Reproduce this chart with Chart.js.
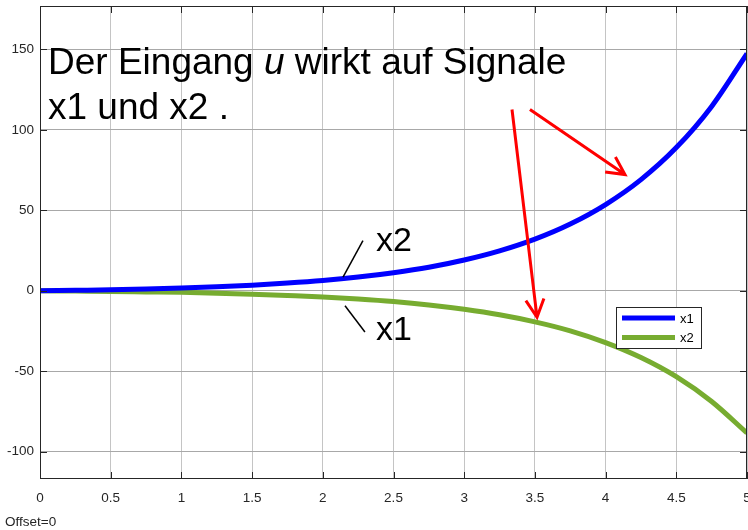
<!DOCTYPE html>
<html>
<head>
<meta charset="utf-8">
<title>Signale x1 und x2</title>
<script src="https://cdn.jsdelivr.net/npm/chart.js@4.4.1/dist/chart.umd.min.js"></script>
<style>
  html, body { margin: 0; padding: 0; background: #fff; }
  #wrap { width: 748px; height: 530px; }
</style>
</head>
<body>
<div id="wrap"><canvas id="signalChart" width="748" height="530"></canvas></div>
<script>
// Zeitachse und Verläufe der beiden Signale
const tValues = [0, 0.25, 0.5, 0.75, 1, 1.25, 1.5, 1.75, 2, 2.25, 2.5, 2.75, 3, 3.25, 3.5, 3.75, 4, 4.25, 4.5, 4.75, 5];
const x1Values = [0, 0.3, 0.6, 1.1, 1.7, 2.5, 3.5, 4.8, 6.4, 8.5, 11.2, 14.6, 19.1, 24.8, 32.1, 41.5, 53.6, 69.1, 89.0, 114.6, 147.4];
const x2Values = [0, -0.2, -0.4, -0.7, -1.0, -1.5, -2.1, -2.9, -3.8, -5.1, -6.7, -8.8, -11.5, -14.9, -19.3, -24.9, -32.2, -41.5, -53.4, -68.8, -88.4];

const xTicks = [0, 0.5, 1, 1.5, 2, 2.5, 3, 3.5, 4, 4.5, 5];
const yTicks = [-100, -50, 0, 50, 100, 150];
const seriesNames = ["x1", "x2"];

const FONT = "'Liberation Sans', Arial, Helvetica, sans-serif";
const BLUE = "#0000ff";
const GREEN = "#77ac30";

function toPoints(xs, ys) {
    return xs.map((x, i) => ({ x: x, y: ys[i] }));
}

// Pfeile und Hinweislinien in Datenkoordinaten
const arrows = [
    { from: [3.465, 112.7], to: [4.137, 72.2] },
    { from: [3.338, 112.7], to: [3.515, -16.5] }
];
const leaders = [
    { from: [2.143, 8.5], to: [2.284, 31.1] },
    { from: [2.157, -9.3], to: [2.298, -25.6] }
];

// keine zusätzliche Innenabstände für überstehende Tick-Labels
function fixScale(size, prop) {
    return s => {
        s[prop] = size;
        s.paddingLeft = 0;
        s.paddingRight = 0;
        s.paddingTop = 0;
        s.paddingBottom = 0;
    };
}

const overlayPlugin = {
    id: "overlay",
    afterDatasetsDraw(chart) {
        const ctx = chart.ctx;
        const area = chart.chartArea;
        const xs = chart.scales.x;
        const ys = chart.scales.y;
        const px = p => [xs.getPixelForValue(p[0]), ys.getPixelForValue(p[1])];

        ctx.save();

        // Achsenrahmen mit innenliegenden Ticks
        ctx.strokeStyle = "#262626";
        ctx.lineWidth = 1;
        ctx.strokeRect(area.left + 0.5, area.top + 0.5, area.right - area.left - 1, area.bottom - area.top - 1);
        ctx.beginPath();
        xTicks.forEach(v => {
            const x = Math.round(xs.getPixelForValue(v)) + 0.5;
            ctx.moveTo(x, area.bottom); ctx.lineTo(x, area.bottom - 7);
            ctx.moveTo(x, area.top); ctx.lineTo(x, area.top + 7);
        });
        yTicks.forEach(v => {
            const y = Math.round(ys.getPixelForValue(v)) + 0.5;
            ctx.moveTo(area.left, y); ctx.lineTo(area.left + 7, y);
            ctx.moveTo(area.right, y); ctx.lineTo(area.right - 7, y);
        });
        ctx.stroke();

        // Haupttext
        ctx.fillStyle = "#000";
        ctx.textBaseline = "alphabetic";
        ctx.textAlign = "left";
        let tx = 48;
        const parts = [["Der Eingang ", ""], ["u", "italic "], [" wirkt auf Signale", ""]];
        parts.forEach(([s, style]) => {
            ctx.font = style + "37px " + FONT;
            ctx.fillText(s, tx, 74);
            tx += ctx.measureText(s).width;
        });
        ctx.font = "37px " + FONT;
        ctx.fillText("x1 und x2 .", 48, 119);

        // Kurvenbeschriftungen mit Hinweislinien
        ctx.font = "34px " + FONT;
        ctx.fillText("x2", 376, 251);
        ctx.fillText("x1", 376, 340);
        ctx.strokeStyle = "#000";
        ctx.lineWidth = 1.5;
        leaders.forEach(l => {
            const a = px(l.from), b = px(l.to);
            ctx.beginPath();
            ctx.moveTo(a[0], a[1]);
            ctx.lineTo(b[0], b[1]);
            ctx.stroke();
        });

        // rote Pfeile
        ctx.strokeStyle = "#ff0000";
        ctx.lineWidth = 3;
        ctx.lineCap = "butt";
        arrows.forEach(ar => {
            const a = px(ar.from), b = px(ar.to);
            const ang = Math.atan2(b[1] - a[1], b[0] - a[0]);
            const head = 20, spread = 27 * Math.PI / 180;
            ctx.beginPath();
            ctx.moveTo(a[0], a[1]);
            ctx.lineTo(b[0], b[1]);
            ctx.moveTo(b[0] - head * Math.cos(ang - spread), b[1] - head * Math.sin(ang - spread));
            ctx.lineTo(b[0], b[1]);
            ctx.lineTo(b[0] - head * Math.cos(ang + spread), b[1] - head * Math.sin(ang + spread));
            ctx.stroke();
        });

        // Legende
        const lx = 616, ly = 307, lw = 85, lh = 41;
        ctx.fillStyle = "#fff";
        ctx.fillRect(lx, ly, lw, lh);
        ctx.strokeStyle = "#262626";
        ctx.lineWidth = 1;
        ctx.strokeRect(lx + 0.5, ly + 0.5, lw, lh);
        const colors = [BLUE, GREEN];
        ctx.font = "13px " + FONT;
        ctx.textBaseline = "middle";
        seriesNames.forEach((name, i) => {
            const y = ly + 11 + i * 19.5;
            ctx.strokeStyle = colors[i];
            ctx.lineWidth = 5;
            ctx.beginPath();
            ctx.moveTo(lx + 6, y);
            ctx.lineTo(lx + 59, y);
            ctx.stroke();
            ctx.fillStyle = "#000";
            ctx.fillText(name, lx + 64, y + 1);
        });

        // Offset-Hinweis
        ctx.fillStyle = "#262626";
        ctx.font = "13.5px " + FONT;
        ctx.fillText("Offset=0", 5, 522);

        ctx.restore();
    }
};

new Chart(document.getElementById("signalChart"), {
    type: "line",
    data: {
        datasets: [
            {
                label: seriesNames[0],
                data: toPoints(tValues, x1Values),
                borderColor: BLUE,
                borderWidth: 5,
                pointRadius: 0,
                cubicInterpolationMode: "monotone",
                fill: false
            },
            {
                label: seriesNames[1],
                data: toPoints(tValues, x2Values),
                borderColor: GREEN,
                borderWidth: 5,
                pointRadius: 0,
                cubicInterpolationMode: "monotone",
                fill: false
            }
        ]
    },
    options: {
        responsive: false,
        animation: false,
        devicePixelRatio: 1,
        layout: { padding: { top: 6, right: 1, left: 0, bottom: 0 } },
        plugins: {
            legend: { display: false },
            tooltip: { enabled: false }
        },
        scales: {
            x: {
                type: "linear",
                min: 0,
                max: 5,
                afterFit: fixScale(51, "height"),
                afterBuildTicks: s => { s.ticks = xTicks.map(v => ({ value: v })); },
                grid: { color: "#c4c4c4", drawTicks: false },
                border: { display: false },
                ticks: {
                    padding: 11,
                    color: "#262626",
                    font: { family: FONT, size: 13.5 },
                    maxRotation: 0,
                    callback: v => String(v)
                }
            },
            y: {
                type: "linear",
                min: -117,
                max: 177,
                afterFit: fixScale(40, "width"),
                afterBuildTicks: s => { s.ticks = yTicks.map(v => ({ value: v })); },
                grid: { color: "#a8a8a8", drawTicks: false },
                border: { display: false },
                ticks: {
                    padding: 6,
                    color: "#262626",
                    font: { family: FONT, size: 13.5 },
                    callback: v => String(v)
                }
            }
        }
    },
    plugins: [overlayPlugin]
});
</script>
</body>
</html>
